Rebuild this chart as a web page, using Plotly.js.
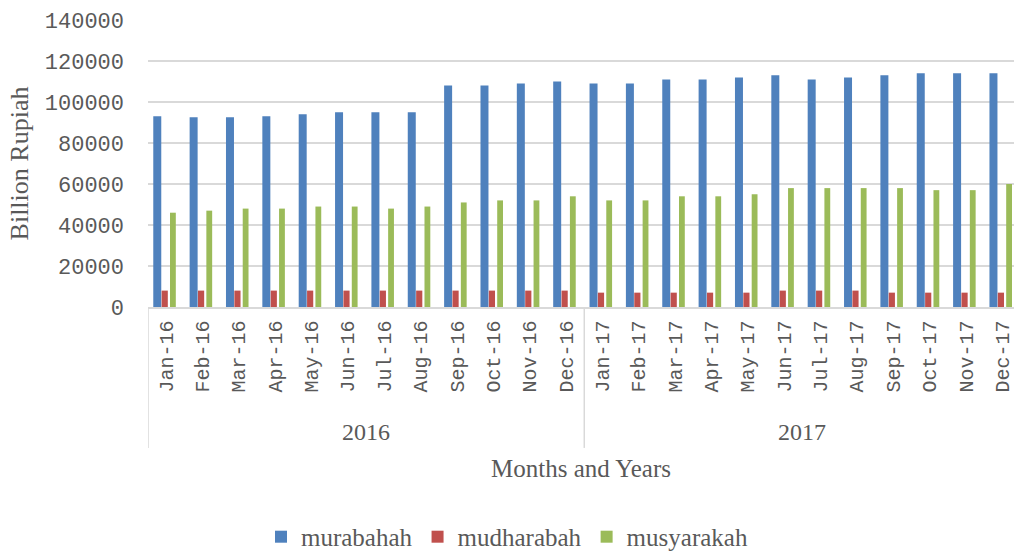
<!DOCTYPE html>
<html>
<head>
<meta charset="utf-8">
<script src="https://cdn.plot.ly/plotly-3.0.1.min.js"></script>
<style>
html,body{margin:0;padding:0;background:#fff;}
#chart{width:1014px;height:557px;}
</style>
</head>
<body>
<div id="chart"></div>
<script>
const years = ["2016","2017"];
const tickLabels = [
  "Jan-16","Feb-16","Mar-16","Apr-16","May-16","Jun-16","Jul-16","Aug-16","Sep-16","Oct-16","Nov-16","Dec-16",
  "Jan-17","Feb-17","Mar-17","Apr-17","May-17","Jun-17","Jul-17","Aug-17","Sep-17","Oct-17","Nov-17","Dec-17"
];
const murabahah = [93000,92500,92500,93000,94000,95000,95000,95000,108000,108000,109000,110000,
                   109000,109000,111000,111000,112000,113000,111000,112000,113000,114000,114000,114000];
const mudharabah = [8000,8000,8000,8000,8000,8000,8000,8000,8000,8000,8000,8000,
                    7000,7000,7000,7000,7000,8000,8000,8000,7000,7000,7000,7000];
const musyarakah = [46000,47000,48000,48000,49000,49000,48000,49000,51000,52000,52000,54000,
                    52000,52000,54000,54000,55000,58000,58000,58000,58000,57000,57000,60000];

const textColor = "#595959";
const lineColor = "#d9d9d9";
const monthsPerYear = 12;

const traces = [
  {name: "murabahah", y: murabahah, color: "#4F81BD", offset: -0.355, width: 0.22},
  {name: "mudharabah", y: mudharabah, color: "#C0504D", offset: -0.125, width: 0.17},
  {name: "musyarakah", y: musyarakah, color: "#9BBB59", offset: 0.105, width: 0.16}
].map(s => ({
  type: "bar", name: s.name, x: tickLabels, y: s.y,
  marker: {color: s.color, line: {width: 0}},
  offset: s.offset, width: s.width
}));

// year group labels and dividers placed on the category axis scale
const annotations = years.map((yr, i) => ({
  text: yr, xref: "x", yref: "paper",
  x: i * monthsPerYear + (monthsPerYear - 1) / 2, y: -0.4355,
  xanchor: "center", yanchor: "middle", showarrow: false,
  font: {family: "Liberation Serif", size: 24, color: textColor}
}));
const shapes = years.map((yr, i) => ({
  type: "line", xref: "x", yref: "paper",
  x0: i * monthsPerYear - 0.5, x1: i * monthsPerYear - 0.5,
  y0: 0, y1: -0.491,
  line: {color: lineColor, width: 1.5}
}));

const layout = {
  width: 1014, height: 557,
  margin: {l: 147.5, r: 0, t: 20, b: 250},
  paper_bgcolor: "#fff", plot_bgcolor: "#fff",
  barmode: "group",
  showlegend: true,
  legend: {
    orientation: "h", xref: "container", yref: "container",
    x: 0.5, xanchor: "center", y: 0.036, yanchor: "middle",
    font: {family: "Liberation Serif", size: 25, color: textColor},
    itemwidth: 30, traceorder: "normal"
  },
  annotations: annotations,
  shapes: shapes,
  xaxis: {
    type: "category",
    range: [-0.5, 23.32],
    tickangle: -90,
    tickfont: {family: "Liberation Mono", size: 20, color: textColor},
    ticklabelstandoff: 4,
    showline: true, linecolor: lineColor, linewidth: 1.5,
    showgrid: false, ticks: "",
    title: {text: "Months and Years", font: {family: "Liberation Serif", size: 25, color: textColor}, standoff: 68}
  },
  yaxis: {
    range: [0, 140000], dtick: 20000, tickformat: "d",
    tickfont: {family: "Liberation Mono", size: 22, color: textColor},
    showgrid: true, gridcolor: lineColor, gridwidth: 1.3,
    zeroline: false, showline: false, ticks: "",
    ticklabelstandoff: 23,
    title: {text: "Billion Rupiah", font: {family: "Liberation Serif", size: 26, color: textColor}, standoff: 8}
  }
};

Plotly.newPlot("chart", traces, layout, {displayModeBar: false, staticPlot: true});
</script>
</body>
</html>
